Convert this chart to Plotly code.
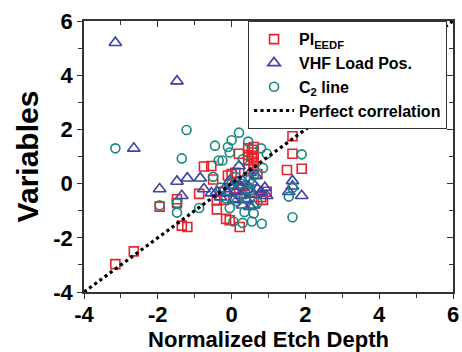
import plotly.graph_objects as go

# ---- data ----
pi_x = [-3.15, -2.65, -1.95, -1.48, -1.48, -1.35, -1.2, -0.88, -0.75, -0.55, -0.5, -0.4, -0.4, -0.3,
        -0.15, -0.05, -0.1, 0.0, 0.1, 0.2, 0.22, 0.3, 0.45, 0.45, 0.45, 0.55, 0.55, 0.6, 0.6, 0.6,
        0.6, 0.6, 0.45, 0.7, 0.5, 0.95, 0.85, 1.65, 1.65, 1.5, 1.9, 0.1, -0.2, 0.2, 0.8]
pi_y = [-2.97, -2.5, -0.85, -0.58, -0.72, -1.55, -1.6, -0.38, 0.63, 0.65, 0.15, -0.95, -0.6, -0.3,
        -1.3, -1.35, 0.3, 0.35, 0.4, 1.1, -1.6, -0.1, 1.3, 1.05, 0.85, 1.25, 1.0, 1.35, 1.15, 0.95,
        0.75, 0.55, 0.55, 0.35, -0.3, -0.3, -0.6, 1.75, 1.1, 0.5, 0.55, -0.5, -0.6, -0.2, -0.5]

vhf_x = [-3.15, -1.48, -2.65, -1.95, -1.48, -1.2, -1.35, -0.85, -0.75, -0.55, -0.4, -0.3, -0.2,
         -0.1, 0.0, 0.1, 0.15, 0.2, 0.25, 0.3, 0.35, 0.4, 0.45, 0.5, 0.55, 0.6, 0.6, 0.65, 0.7,
         0.8, 0.95, 0.9, 0.05, 0.3, 1.65, 1.65, 1.55, 1.9, 0.5, 0.2, -0.05]
vhf_y = [5.2, 3.78, 1.3, -0.2, 0.08, 0.2, -0.45, 0.2, -0.2, -0.35, -0.3, -0.5, -0.2,
         -0.35, -0.1, -0.3, 0.05, 0.65, -0.45, 0.1, -0.25, -0.6, -0.1, -0.85, 0.05, -0.4, -0.8, 0.3, -0.2,
         -0.3, -0.45, -0.15, -0.6, -0.8, 0.1, -0.1, -0.3, -0.45, 0.4, -0.1, 0.1]

c2_x = [-3.15, -1.22, -1.35, -1.95, -1.48, -1.48, -0.88, -0.5, -0.45, -0.35, -0.25, -0.1, -0.05,
        0.0, 0.2, 0.45, 0.8, 0.95, 0.85, 0.3, 1.9, 1.55, 1.65, 1.65, 0.82, 0.55, 0.3, 0.05, 0.6,
        0.35, -0.05, 0.15, 0.4, 0.5, 0.1, -0.3, 0.6, 0.25, -0.15, 0.7, 0.0, 0.5]
c2_y = [1.3, 1.98, 0.93, -0.8, -0.72, -1.07, -0.9, 0.25, 1.4, 0.85, 0.85, 1.35, 1.15,
        1.6, 1.88, 1.55, 1.3, 1.1, 0.58, 0.9, 1.08, -0.48, -1.24, -0.15, -1.48, -1.4, -1.45, -1.4, -1.1,
        -1.05, -0.9, -0.65, -0.5, -0.25, 0.25, -0.15, 0.3, 0.0, -0.55, -0.7, 0.0, 0.15]

line_x = [-4, 6]
line_y = [-4, 6]

x_ticks = [-4, -2, 0, 2, 4, 6]
y_ticks = [-4, -2, 0, 2, 4, 6]

FONT = "Liberation Sans, Arial, sans-serif"
RED = "#e8232b"
BLUE = "#3a43a6"
TEAL = "#17877d"
AX = "#333333"

fig = go.Figure()
fig.add_trace(go.Scatter(x=pi_x, y=pi_y, mode="markers", name="PI<sub>EEDF</sub>",
                         marker=dict(symbol="square-open", size=9, color=RED, line=dict(width=1.6, color=RED))))
fig.add_trace(go.Scatter(x=vhf_x, y=vhf_y, mode="markers", name="VHF Load Pos.",
                         marker=dict(symbol="triangle-up-open", size=11, color=BLUE, line=dict(width=1.6, color=BLUE))))
fig.add_trace(go.Scatter(x=c2_x, y=c2_y, mode="markers", name="C<sub>2</sub> line",
                         marker=dict(symbol="circle-open", size=9, color=TEAL, line=dict(width=1.6, color=TEAL))))
fig.add_trace(go.Scatter(x=line_x, y=line_y, mode="lines", name="Perfect correlation",
                         line=dict(color="black", width=3.2, dash="dot")))
# invisible trace to hold mirrored (inside) ticks axes
fig.add_trace(go.Scatter(x=[None], y=[None], xaxis="x2", yaxis="y2", showlegend=False, hoverinfo="skip"))

fig.update_layout(
    width=462, height=352,
    margin=dict(l=84, r=9, t=21, b=60, autoexpand=False),
    paper_bgcolor="white", plot_bgcolor="white",
    font=dict(family=FONT, color="black"),
    showlegend=True,
    legend=dict(x=0.444, y=1.0, xanchor="left", yanchor="top",
                bgcolor="white", bordercolor=AX, borderwidth=1.2,
                font=dict(family=FONT, size=16, color="black", weight="bold"),
                tracegroupgap=0, itemwidth=40),
    xaxis=dict(range=[-4, 6], tickvals=x_ticks, ticktext=[str(v) for v in x_ticks], automargin=False,
               ticks="outside", ticklen=5, tickwidth=1.3, tickcolor=AX, ticklabelstandoff=-3,
               minor=dict(dtick=1, ticks="outside", ticklen=4, tickcolor=AX, tickwidth=1.3),
               showgrid=False, zeroline=False, showline=True, linecolor=AX, linewidth=1.5,
               tickfont=dict(family=FONT, size=22, color="black", weight="bold"),
               title=dict(text="Normalized Etch Depth", standoff=4,
                          font=dict(family=FONT, size=22, color="black", weight="bold"))),
    yaxis=dict(range=[-4, 6], tickvals=y_ticks, ticktext=[str(v) for v in y_ticks], automargin=False,
               ticks="outside", ticklen=5, tickwidth=1.3, tickcolor=AX,
               minor=dict(dtick=1, ticks="outside", ticklen=4, tickcolor=AX, tickwidth=1.3),
               showgrid=False, zeroline=False, showline=True, linecolor=AX, linewidth=1.5,
               tickfont=dict(family=FONT, size=22, color="black", weight="bold"),
               title=dict(text="Variables", standoff=6,
                          font=dict(family=FONT, size=30, color="black", weight="bold"))),
    xaxis2=dict(range=[-4, 6], overlaying="x", side="top", anchor="y2", tickvals=x_ticks, automargin=False,
                showticklabels=False, ticks="inside", ticklen=6, tickwidth=1.3, tickcolor=AX,
                minor=dict(dtick=1, ticks="inside", ticklen=4, tickcolor=AX, tickwidth=1.3),
                showgrid=False, zeroline=False, showline=True, linecolor=AX, linewidth=1.5),
    yaxis2=dict(range=[-4, 6], overlaying="y", side="right", anchor="x2", tickvals=y_ticks, automargin=False,
                showticklabels=False, ticks="inside", ticklen=6, tickwidth=1.3, tickcolor=AX,
                minor=dict(dtick=1, ticks="inside", ticklen=4, tickcolor=AX, tickwidth=1.3),
                showgrid=False, zeroline=False, showline=True, linecolor=AX, linewidth=1.5),
)

fig.write_html("out.html", config={"displayModeBar": False},
               post_script="document.body.style.margin='0px';document.body.style.padding='0px';")
